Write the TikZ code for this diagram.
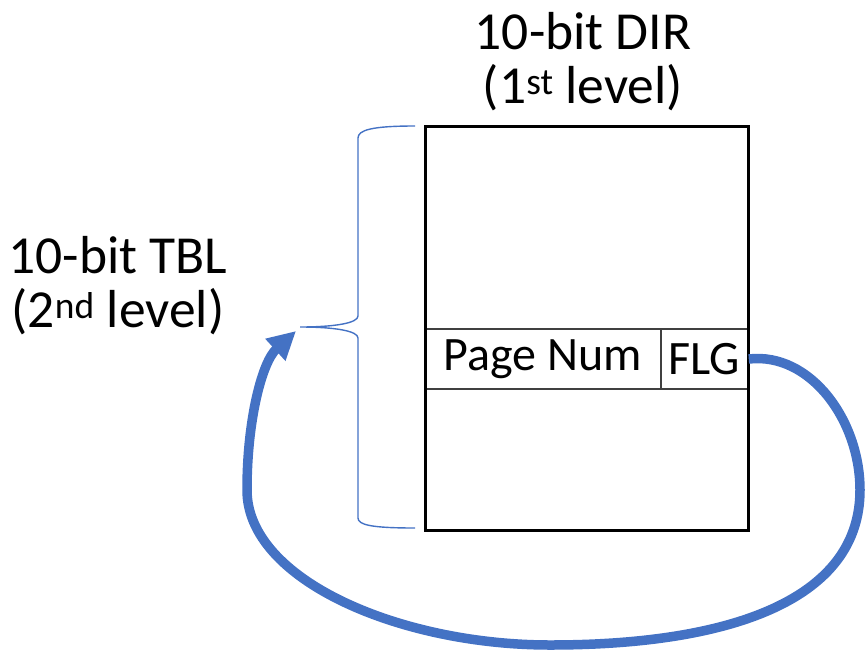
\documentclass[tikz,border=0pt]{standalone}
\usepackage{fontspec}
\setmainfont{Carlito}
\usetikzlibrary{arrows.meta,calc}
\definecolor{officeblue}{HTML}{4472C4}

\begin{document}
\begin{tikzpicture}[x = 1pt, y = -1pt,
    bigtext/.style = {font = \fontsize{53.5}{54}\selectfont, align = center},
    cell/.style = {draw = black!75, line width = 1.5pt, minimum height = 60pt, inner sep = 0pt, font = \fontsize{48}{53}\selectfont},
    brace/.style = {draw, officeblue, line width = 1.4pt},
    link/.style = {draw, officeblue, line width = 9.5pt, -{Triangle[length = 28pt, width = 28pt]}}]
    \useasboundingbox(0,0)rectangle(865,651);
    % table
    \coordinate(TL)at(425,126);
    \coordinate(BR)at(748,530);
    \node[cell, minimum width = 236pt](pnum)at(543,359){Page Num};
    \node[cell, minimum width = 87pt](flg)at(704.5,359){FLG};
    \path[draw, line width = 3pt](TL)rectangle(BR);
    % labels
    \node[bigtext](dirlabel)at(583,62){10-bit DIR\\(1\textsuperscript{st} level)};
    \node[bigtext](tbllabel)at(118,286){10-bit TBL\\(2\textsuperscript{nd} level)};
    % brace
    \coordinate(tip)at(300,327);
    \path[brace](415,126) .. controls (372,126) and (358,130) .. (358,138) -- (358,316)
        .. controls (358,323) and (335,327) .. (tip)
        .. controls (335,327) and (358,331) .. (358,338) -- (358,518)
        .. controls (358,525) and (372,528) .. (415,528);
    % pointer
    \coordinate(head)at(296,331);
    \path[link](flg.east) .. controls (810,352) and (860,420) .. (860,490)
        .. controls (860,600) and (730,645) .. (550,645)
        .. controls (400,645) and (247,580) .. (247,490)
        .. controls (247,420) and (262,362) .. (head);
\end{tikzpicture}
\end{document}
